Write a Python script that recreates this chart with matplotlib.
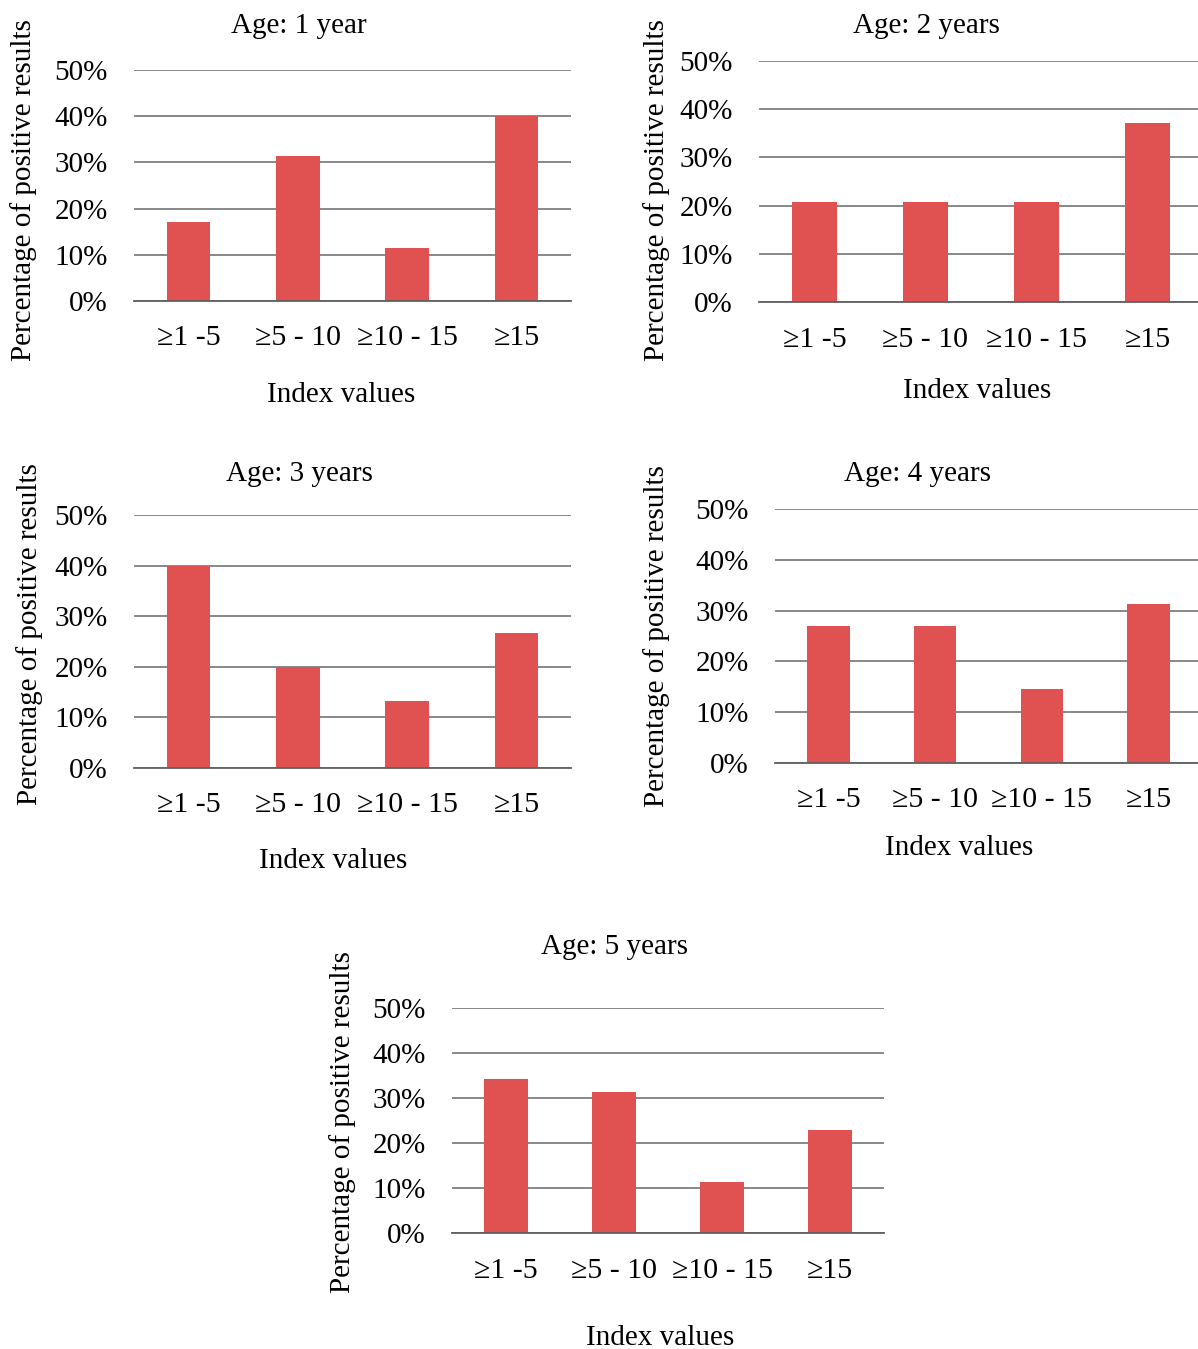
import matplotlib
matplotlib.use('Agg')
import matplotlib.pyplot as plt
from matplotlib.ticker import PercentFormatter

plt.rcParams['font.family'] = ['Liberation Serif', 'DejaVu Serif']

categories = ['≥1 -5', '≥5 - 10', '≥10 - 15', '≥15']
titles = ['Age: 1 year', 'Age: 2 years', 'Age: 3 years', 'Age: 4 years', 'Age: 5 years']
age1 = [17.2, 31.4, 11.5, 40.0]
age2 = [20.8, 20.8, 20.8, 37.1]
age3 = [40.0, 20.0, 13.3, 26.7]
age4 = [27.0, 27.0, 14.6, 31.3]
age5 = [34.3, 31.4, 11.4, 22.9]
series = [age1, age2, age3, age4, age5]

W, H = 1198, 1349
fig = plt.figure(figsize=(W / 100, H / 100), dpi=100)

# axes boxes in pixels: left, right, top (50%), bottom (0%)
boxes = [(134, 571, 70, 301), (759, 1203, 61, 302), (134, 571, 515, 768),
         (775, 1202, 509, 763), (452, 884, 1008, 1233)]
# title / xlabel / ylabel pixel positions
title_pos = [(299, 26), (926, 26), (299, 474), (918, 474), (615, 947)]
xlab_pos = [(341, 395), (977, 391), (333, 861), (959, 848), (660, 1338)]
ylab_pos = [(24, 190), (657, 190), (30, 634), (657, 636), (343, 1122)]
tick_y = [338, 340, 805, 800, 1271]

fs = 21
red = '#E05252'
for i, vals in enumerate(series):
    l, r, t, b = boxes[i]
    ax = fig.add_axes([l / W, 1 - b / H, (r - l) / W, (b - t) / H])
    x = list(range(len(categories)))
    ax.bar(x, vals, width=0.4, color=red, zorder=2)
    ax.set_xlim(-0.5, 3.5)
    ax.set_ylim(0, 50)
    ax.set_yticks([0, 10, 20, 30, 40, 50])
    ax.yaxis.set_major_formatter(PercentFormatter(decimals=0))
    ax.grid(axis='y', color='#7f7f7f', linewidth=1.3, zorder=0)
    for s in ['top', 'right', 'left']:
        ax.spines[s].set_visible(False)
    ax.spines['bottom'].set_color('#606060')
    ax.spines['bottom'].set_linewidth(1.3)
    ax.spines['bottom'].set_zorder(3)
    ax.tick_params(axis='both', length=0, labelsize=fs, pad=19)
    ax.set_xticks(x)
    ax.set_xticklabels([])
    for j, c in enumerate(categories):
        cx = l + (r - l) * (j + 0.5) / 4
        fig.text(cx / W, 1 - tick_y[i] / H, c, fontsize=fs + 0.5, ha='center', va='center')
    tx, ty = title_pos[i]
    fig.text(tx / W, 1 - ty / H, titles[i], fontsize=fs, ha='center', va='center')
    xx, xy = xlab_pos[i]
    fig.text(xx / W, 1 - xy / H, 'Index values', fontsize=fs, ha='center', va='center')
    yx, yy = ylab_pos[i]
    fig.text(yx / W, 1 - yy / H, 'Percentage of positive results',
             fontsize=fs, ha='center', va='center', rotation=90)

fig.savefig('out.png', dpi=100)
